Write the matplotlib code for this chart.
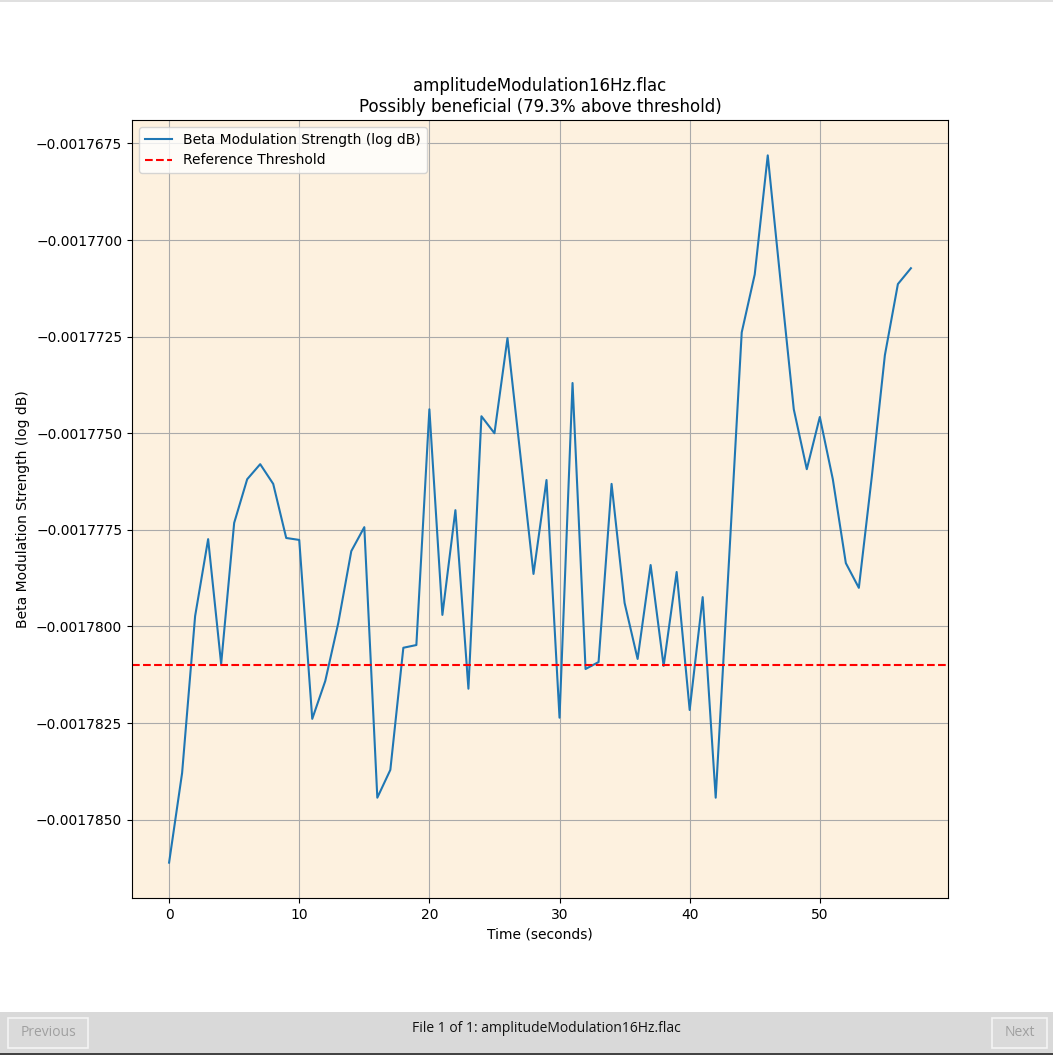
import matplotlib
matplotlib.use("Agg")
import matplotlib.pyplot as plt
from matplotlib.patches import Rectangle

fname = "amplitudeModulation16Hz.flac"
times = list(range(58))
strength = [
    -0.00178611, -0.00178379, -0.00177973, -0.00177774, -0.00178097, -0.00177732,
    -0.00177619, -0.00177580, -0.00177631, -0.00177771, -0.00177776, -0.00178239,
    -0.00178141, -0.00177991, -0.00177805, -0.00177743, -0.00178443, -0.00178371,
    -0.00178055, -0.00178048, -0.00177438, -0.00177970, -0.00177699, -0.00178161,
    -0.00177456, -0.00177500, -0.00177254, -0.00177559, -0.00177864, -0.00177621,
    -0.00178236, -0.00177370, -0.00178110, -0.00178092, -0.00177631, -0.00177939,
    -0.00178084, -0.00177841, -0.00178102, -0.00177859, -0.00178216, -0.00177924,
    -0.00178443, -0.00177843, -0.00177239, -0.00177089, -0.00176781, -0.00177112,
    -0.00177438, -0.00177593, -0.00177458, -0.00177619, -0.00177836, -0.00177900,
    -0.00177611, -0.00177298, -0.00177114, -0.00177073,
]
threshold = -0.001781
pct_above = 79.3

fig = plt.figure(figsize=(10.53, 10.55), dpi=100)
ax = fig.add_axes([132/1053, 1-898/1055, (948-132)/1053, (898-120)/1055])
ax.set_facecolor("#fdf1df")
ax.plot(times, strength, color="#1f77b4", lw=1.5, label="Beta Modulation Strength (log dB)")
ax.axhline(threshold, color="red", ls="--", lw=1.5, label="Reference Threshold")
ax.grid(True, color="#aaaaaa", lw=0.8)
ax.set_axisbelow(True)
ax.ticklabel_format(axis="y", useOffset=False, style="plain")
ax.set_xlabel("Time (seconds)")
ax.set_ylabel("Beta Modulation Strength (log dB)")
ax.set_title(f"{fname}\nPossibly beneficial ({pct_above}% above threshold)", fontsize=12)
ax.legend(loc="upper left")

# bottom navigation bar
fig.patches.append(Rectangle((0, 0), 1, 43/1055, transform=fig.transFigure,
                             facecolor="#d9d9d9", edgecolor="none", zorder=0))
fig.patches.append(Rectangle((0, 0), 1, 2/1055, transform=fig.transFigure,
                             facecolor="#444444", edgecolor="none", zorder=1))
fig.patches.append(Rectangle((0, 1053/1055), 1, 2/1055, transform=fig.transFigure,
                             facecolor="#e0e0e0", edgecolor="none", zorder=1))
for (x0, x1, lab) in [(8, 88, "Previous"), (992, 1047, "Next")]:
    fig.patches.append(Rectangle((x0/1053, 1-1048/1055), (x1-x0)/1053, 30/1055,
                                 transform=fig.transFigure, facecolor="#dadada",
                                 edgecolor="#f4f4f4", lw=1.2, zorder=2))
    fig.text((x0+x1)/2/1053, 1-1033/1055, lab, ha="center", va="center",
             fontsize=10, color="#a0a0a0", family="Open Sans", zorder=3)
fig.text(546/1053, 1-1028/1055, f"File 1 of 1: {fname}", ha="center", va="center",
         fontsize=10, color="#111111", family="Open Sans", zorder=3)

fig.savefig("out.png", dpi=100)
